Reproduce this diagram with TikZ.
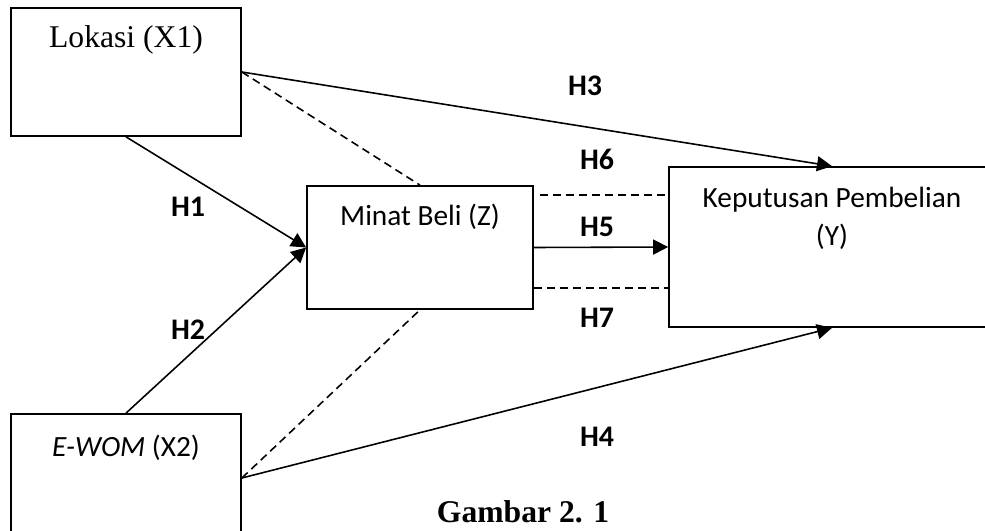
\documentclass[tikz,border=0pt]{standalone}
\usepackage{fontspec}
\setmainfont{Liberation Serif}
\newfontfamily\calibri{Carlito}
\usetikzlibrary{arrows.meta, positioning, calc}

\tikzset{
  box/.style={rectangle, draw, line width=1pt, inner sep=0pt},
  boxX/.style={box, minimum width=4.6cm, minimum height=2.56cm},
  boxZ/.style={box, minimum width=4.52cm, minimum height=2.46cm},
  boxY/.style={box, minimum width=6.52cm, minimum height=3.2cm},
  lblS/.style={font=\calibri\fontsize{16.7}{21.6}\selectfont, align=center, inner sep=0pt},
  lblT/.style={font=\fontsize{18}{21}\selectfont, inner sep=0pt},
  hyp/.style={font=\calibri\bfseries\fontsize{17}{19}\selectfont, inner sep=0pt},
  arr/.style={-{Triangle[length=0.3cm, width=0.3cm]}, line width=0.9pt},
  dsh/.style={line width=0.9pt, dash pattern=on 0.16cm off 0.1cm},
}

\begin{document}
\begin{tikzpicture}[x=0.02cm, y=-0.02cm]
  \useasboundingbox (0,0) rectangle (985,531);

  % variable boxes
  \node[boxX] (lokasi) at (126,72) {};
  \node[boxX] (ewom) at (126,478) {};
  \node[boxZ] (minat) at (420,247.5) {};
  \node[boxY] (kep) at (832,247) {};

  % box titles
  \node[lblT] (tlokasi) at ([yshift=-0.65cm]lokasi.north) {Lokasi (X1)};
  \node[lblS] (tewom) at ([yshift=-0.7cm]ewom.north) {\textit{E-WOM} (X2)};
  \node[lblS] (tminat) at ([yshift=-0.63cm]minat.north) {Minat Beli (Z)};
  \node[lblS] (tkep) at ([yshift=-1.04cm]kep.north) {Keputusan Pembelian\\(Y)};

  % direct paths
  \draw[arr] (lokasi.south) -- (minat.west);
  \draw[arr] (ewom.north) -- (minat.west);
  \draw[arr] (lokasi.east) -- (kep.north);
  \draw[arr] (ewom.east) -- (kep.south);
  \draw[arr] (minat.east) -- (kep.west);

  % mediated paths
  \draw[dsh] (lokasi.east) -- (minat.north);
  \draw[dsh] (ewom.east) -- (minat.south);
  \draw[dsh] ([xshift=0.12cm,yshift=-0.2cm]minat.north east)
       -- ([yshift=-0.2cm]kep.west |- minat.north east);
  \draw[dsh] ([yshift=0.44cm]minat.south east)
       -- ([yshift=0.44cm]kep.west |- minat.south east);

  % hypothesis labels
  \node[hyp] (h1) at (188,207) {H1};
  \node[hyp] (h2) at (188,330) {H2};
  \node[hyp] (h3) at (585,86) {H3};
  \node[hyp] (h4) at (597,437) {H4};
  \node[hyp] (h5) at (597,227) {H5};
  \node[hyp] (h6) at (597,159) {H6};
  \node[hyp] (h7) at (597,318) {H7};

  % caption
  \node[font=\bfseries\fontsize{18}{22}\selectfont, inner sep=0pt] (cap) at (523,511.5) {Gambar 2. 1};
\end{tikzpicture}
\end{document}
